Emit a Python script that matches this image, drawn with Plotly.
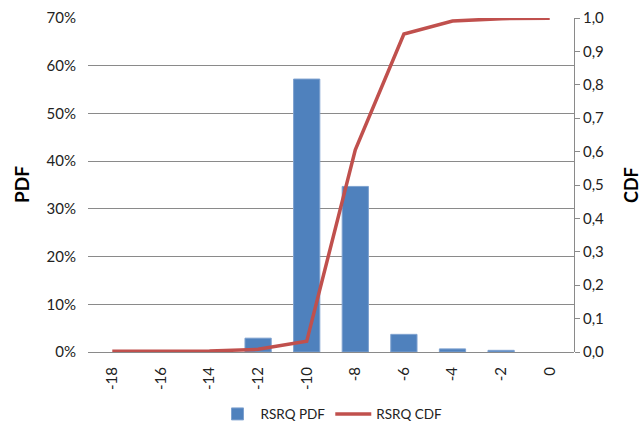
import plotly.graph_objects as go

categories = ["-18", "-16", "-14", "-12", "-10", "-8", "-6", "-4", "-2", "0"]
pdf_values = [None, None, None, 0.029, 0.572, 0.347, 0.037, 0.0065, 0.0035, None]
cdf_values = [0.002, 0.003, 0.003, 0.008, 0.032, 0.605, 0.952, 0.991, 0.998, 0.999]
pdf_ticks = [0, 0.1, 0.2, 0.3, 0.4, 0.5, 0.6, 0.7]
cdf_ticks = [round(i * 0.1, 1) for i in range(11)]

FONT = "Lato, Open Sans, sans-serif"
GRID = "#8a8a8a"

fig = go.Figure()
fig.add_trace(go.Bar(
    x=categories, y=pdf_values, name="RSRQ PDF",
    marker=dict(color="#4F81BD", line=dict(color="#7EA1CF", width=1)),
    width=0.54, yaxis="y",
))
fig.add_trace(go.Scatter(
    x=categories, y=cdf_values, name="RSRQ CDF", mode="lines",
    line=dict(color="#C0504D", width=3.5), yaxis="y2",
))

fig.update_layout(
    width=643, height=426,
    margin=dict(l=88, r=69, t=18, b=74, autoexpand=False),
    paper_bgcolor="white", plot_bgcolor="white",
    separators=", ",
    font=dict(family=FONT, size=15, color="#222222"),
    showlegend=True,
    legend=dict(orientation="h", x=0.50, y=-0.186, xanchor="center", yanchor="middle",
                font=dict(size=13.5, family=FONT), itemwidth=36, traceorder="normal"),
    xaxis=dict(type="category", range=[-0.5, 9.5], tickangle=-90, showgrid=False,
               showline=False, ticks="outside", ticklen=8, tickcolor="rgba(0,0,0,0)",
               tickfont=dict(size=15), automargin=False),
    yaxis=dict(range=[0, 0.7], tickmode="array", tickvals=pdf_ticks, tickformat=".0%",
               showgrid=True, gridcolor=GRID, gridwidth=1, showline=False, zeroline=True,
               zerolinecolor=GRID, zerolinewidth=1, ticks="outside", ticklen=8,
               tickcolor="rgba(0,0,0,0)", tickfont=dict(size=15), automargin=False),
    yaxis2=dict(range=[0, 1.0], tickmode="array", tickvals=cdf_ticks, tickformat=".1f",
                overlaying="y", side="right", showgrid=False, showline=True, linecolor=GRID,
                linewidth=1, ticks="outside", ticklen=5, tickcolor=GRID, zeroline=False,
                tickfont=dict(size=15), automargin=False),
    annotations=[
        dict(text="<b>PDF</b>", textangle=-90, xref="paper", yref="paper",
             x=(21 - 88) / 486, y=0.5, xanchor="center", yanchor="middle", showarrow=False,
             font=dict(size=19, family=FONT, color="#000")),
        dict(text="<b>CDF</b>", textangle=-90, xref="paper", yref="paper",
             x=(631 - 88) / 486, y=0.5, xanchor="center", yanchor="middle", showarrow=False,
             font=dict(size=18, family=FONT, color="#000")),
    ],
)

fig.write_html("out.html", config={"displayModeBar": False},
               post_script="document.body.style.margin='0';document.body.style.overflow='hidden';")
